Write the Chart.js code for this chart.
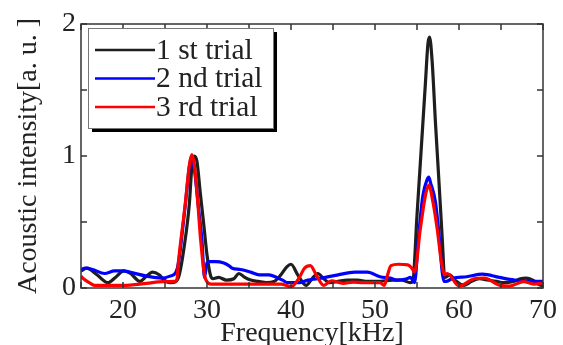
<!DOCTYPE html>
<html>
<head>
<meta charset="utf-8">
<script src="https://cdn.jsdelivr.net/npm/chart.js@4"></script>
<style>
  body { margin: 0; background: #fff; }
  #wrap { width: 563px; height: 345px; }
</style>
</head>
<body>
<div id="wrap"><canvas id="spectrum" width="563" height="345"></canvas></div>
<script>
// Spectra (kHz, a.u.)
const freq1 = [15.0, 15.7, 16.9, 18.2, 19.1, 20.1, 20.9, 22.0, 22.8, 23.5, 24.3, 24.9, 25.7, 26.3, 26.7, 27.3, 27.9, 28.2, 28.5, 28.8, 29.2, 29.6, 30.0, 30.4, 30.7, 31.4, 32.3, 33.2, 33.8, 34.5, 35.2, 36.1, 37.1, 38.0, 38.8, 39.5, 40.0, 40.8, 41.8, 42.5, 43.2, 43.9, 44.6, 45.6, 46.7, 47.9, 49.1, 50.3, 52.1, 53.2, 54.2, 54.5, 55.0, 55.5, 56.0, 56.3, 56.5, 56.8, 57.2, 57.6, 58.0, 58.3, 58.9, 59.5, 60.6, 61.5, 62.4, 63.5, 64.5, 65.3, 66.5, 67.3, 68.0, 68.8, 69.8, 70.0];
const trial1 = [0.13, 0.15, 0.10, 0.04, 0.08, 0.13, 0.11, 0.05, 0.09, 0.12, 0.10, 0.06, 0.04, 0.05, 0.10, 0.32, 0.64, 0.92, 1.00, 0.96, 0.72, 0.49, 0.25, 0.10, 0.07, 0.08, 0.06, 0.07, 0.11, 0.08, 0.06, 0.05, 0.04, 0.05, 0.10, 0.16, 0.18, 0.10, 0.02, 0.07, 0.11, 0.07, 0.04, 0.05, 0.06, 0.06, 0.05, 0.05, 0.06, 0.06, 0.04, 0.05, 0.55, 1.05, 1.55, 1.85, 1.90, 1.72, 1.25, 0.82, 0.38, 0.08, 0.10, 0.06, 0.02, 0.05, 0.07, 0.06, 0.05, 0.04, 0.05, 0.07, 0.075, 0.06, 0.02, 0.02];

const freq2 = [15.0, 15.5, 16.4, 17.8, 19.0, 20.0, 20.8, 22.8, 24.6, 25.6, 26.3, 26.6, 27.4, 27.9, 28.2, 28.5, 29.0, 29.4, 29.7, 30.0, 30.3, 31.0, 32.0, 32.6, 33.0, 34.0, 35.2, 36.2, 37.4, 38.3, 39.0, 39.6, 41.0, 42.0, 43.2, 45.6, 47.6, 49.1, 50.6, 51.8, 52.6, 53.8, 54.2, 54.7, 55.2, 55.7, 56.2, 56.4, 56.6, 57.2, 57.6, 58.0, 58.2, 58.5, 59.3, 60.9, 62.8, 64.8, 66.6, 69.0, 70.0];
const trial2 = [0.14, 0.15, 0.14, 0.11, 0.13, 0.13, 0.12, 0.09, 0.075, 0.09, 0.12, 0.19, 0.62, 0.92, 1.00, 0.90, 0.60, 0.36, 0.08, 0.19, 0.20, 0.20, 0.19, 0.17, 0.15, 0.14, 0.12, 0.10, 0.10, 0.08, 0.06, 0.04, 0.04, 0.06, 0.07, 0.10, 0.12, 0.12, 0.085, 0.075, 0.06, 0.07, 0.08, 0.04, 0.40, 0.70, 0.82, 0.84, 0.80, 0.65, 0.42, 0.12, 0.05, 0.05, 0.075, 0.085, 0.105, 0.08, 0.06, 0.05, 0.05];

const freq3 = [15.0, 15.3, 16.0, 16.6, 18.0, 20.0, 22.8, 24.7, 26.1, 26.4, 26.6, 27.4, 27.9, 28.2, 28.5, 28.9, 29.25, 29.7, 30.1, 30.5, 33.0, 36.0, 38.8, 40.0, 41.0, 41.6, 42.3, 43.0, 43.9, 44.8, 46.2, 47.4, 48.6, 50.6, 51.1, 51.5, 51.9, 52.8, 53.9, 54.4, 54.7, 55.4, 56.0, 56.4, 56.9, 57.4, 57.9, 58.3, 58.6, 60.0, 61.8, 63.0, 64.9, 66.0, 67.7, 68.9, 70.0];
const trial3 = [0.09, 0.07, 0.04, 0.02, 0.02, 0.02, 0.035, 0.048, 0.05, 0.06, 0.20, 0.63, 0.93, 1.01, 0.93, 0.65, 0.36, 0.10, 0.04, 0.03, 0.03, 0.03, 0.03, 0.01, 0.08, 0.15, 0.17, 0.10, 0.02, 0.055, 0.035, 0.045, 0.04, 0.04, 0.02, 0.10, 0.17, 0.18, 0.175, 0.15, 0.12, 0.45, 0.70, 0.78, 0.65, 0.45, 0.20, 0.10, 0.11, 0.015, 0.07, 0.075, 0.02, 0.015, 0.048, 0.03, 0.035];

const seriesNames = ['1 st trial', '2 nd trial', '3 rd trial'];
const seriesColors = ['#1e1e1e', '#0000ff', '#ff0000'];
const xTicks = [20, 30, 40, 50, 60, 70];
const yTicks = [0, 1, 2];

const serif = 'Liberation Serif, Times New Roman, serif';
const inkColor = '#222';

function pts(xs, ys) {
    return xs.map((x, i) => ({ x: x, y: ys[i] }));
}

// frame with inward ticks plus the boxed legend
const framePlugin = {
    id: 'frame',
    afterDatasetsDraw(chart) {
        const ctx = chart.ctx;
        const a = chart.chartArea;
        const xs = chart.scales.x, ys = chart.scales.y;
        ctx.save();
        ctx.strokeStyle = '#333';
        ctx.lineWidth = 1.5;
        ctx.strokeRect(a.left, a.top, a.right - a.left, a.bottom - a.top);
        ctx.beginPath();
        xs.ticks.forEach(t => {
            const px = xs.getPixelForValue(t.value);
            ctx.moveTo(px, a.bottom); ctx.lineTo(px, a.bottom - 6);
            ctx.moveTo(px, a.top); ctx.lineTo(px, a.top + 6);
        });
        ys.ticks.forEach(t => {
            const py = ys.getPixelForValue(t.value);
            ctx.moveTo(a.left, py); ctx.lineTo(a.left + 6, py);
            ctx.moveTo(a.right, py); ctx.lineTo(a.right - 6, py);
        });
        ctx.stroke();

        // legend box
        const bx = a.left + 7, by = a.top + 4, bw = 185, bh = 100;
        ctx.fillStyle = '#000';
        ctx.fillRect(bx + 4, by + 4, bw, bh);
        ctx.fillStyle = '#fff';
        ctx.fillRect(bx, by, bw, bh);
        ctx.strokeStyle = '#777';
        ctx.lineWidth = 1;
        ctx.strokeRect(bx + 0.5, by + 0.5, bw, bh);
        ctx.font = '29.5px ' + serif;
        ctx.textBaseline = 'middle';
        chart.data.datasets.forEach((ds, i) => {
            const ly = by + 22 + i * 28.5;
            ctx.strokeStyle = ds.borderColor;
            ctx.lineWidth = 2.5;
            ctx.beginPath();
            ctx.moveTo(bx + 7, ly); ctx.lineTo(bx + 67, ly);
            ctx.stroke();
            ctx.fillStyle = inkColor;
            ctx.fillText(ds.label, bx + 68, ly + 1);
        });
        ctx.restore();
    }
};

const datasets = [pts(freq1, trial1), pts(freq2, trial2), pts(freq3, trial3)].map((d, i) => ({
    label: seriesNames[i],
    data: d,
    borderColor: seriesColors[i],
    backgroundColor: seriesColors[i],
    borderWidth: 3.2,
    pointRadius: 0,
    cubicInterpolationMode: 'monotone',
    order: 3 - i
}));

new Chart(document.getElementById('spectrum'), {
    type: 'line',
    data: { datasets: datasets },
    options: {
        responsive: false,
        animation: false,
        layout: { padding: { top: 24, right: 16, left: 0, bottom: 0 } },
        plugins: { legend: { display: false }, tooltip: { enabled: false } },
        scales: {
            x: {
                type: 'linear',
                min: 15, max: 70,
                grid: { display: false, drawTicks: false },
                border: { display: false },
                ticks: {
                    stepSize: 5,
                    padding: 6,
                    maxRotation: 0,
                    autoSkip: false,
                    color: inkColor,
                    font: { family: serif, size: 28 },
                    callback: v => xTicks.includes(v) ? String(v) : ''
                },
                title: {
                    display: true,
                    text: 'Frequency[kHz]',
                    color: inkColor,
                    font: { family: serif, size: 28 },
                    padding: { top: 0, bottom: -5 }
                },
                afterFit: s => { s.height = 57; }
            },
            y: {
                min: 0, max: 2,
                grid: { display: false, drawTicks: false },
                border: { display: false },
                ticks: {
                    stepSize: 0.5,
                    padding: 5,
                    color: inkColor,
                    font: { family: serif, size: 28 },
                    callback: v => yTicks.includes(v) ? String(v) : ''
                },
                title: {
                    display: true,
                    text: 'Acoustic intensity[a. u. ]',
                    color: inkColor,
                    font: { family: serif, size: 28 },
                    padding: { top: 12, bottom: 0 }
                },
                afterFit: s => { s.width = 81; }
            }
        }
    },
    plugins: [framePlugin]
});
</script>
</body>
</html>
